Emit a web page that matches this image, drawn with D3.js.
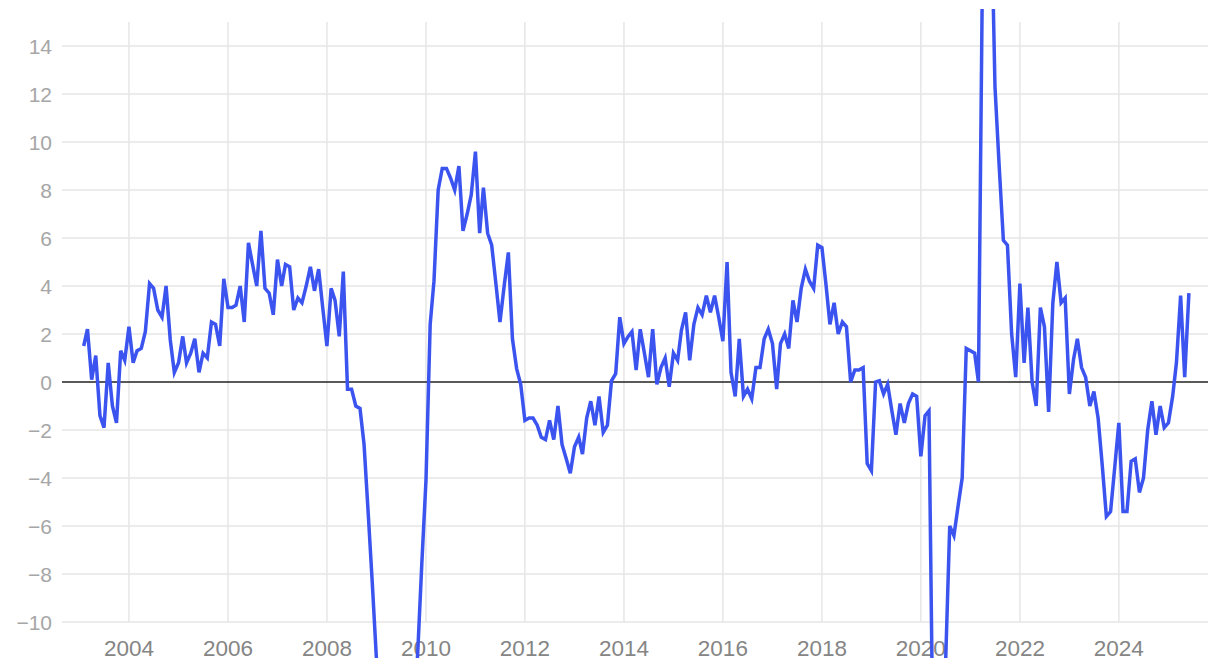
<!DOCTYPE html>
<html>
<head>
<meta charset="utf-8">
<script src="https://cdn.jsdelivr.net/npm/d3@7"></script>
<style>
  html, body { margin: 0; padding: 0; background: #fff; }
  svg { display: block; }
  text { font-family: "Liberation Sans", Arial, Helvetica, sans-serif; }
</style>
</head>
<body>
<svg id="chart" width="1220" height="668"></svg>
<script>
// ---- data (monthly, Feb 2003 – Jun 2025) ----
const startYear = 2003, startMonth = 1; // Feb 2003 (0-based month)
const v2003 = [1.5, 2.2, 0.1, 1.1, -1.4, -1.9, 0.8, -1.0, -1.7, 1.3, 0.9];
const v2004 = [2.3, 0.8, 1.3, 1.4, 2.1, 4.1, 3.9, 3.0, 2.7, 4.0, 1.75, 0.4];
const v2005 = [0.8, 1.9, 0.8, 1.2, 1.8, 0.4, 1.2, 1.0, 2.5, 2.4, 1.5, 4.3];
const v2006 = [3.1, 3.1, 3.2, 4.0, 2.5, 5.8, 4.9, 4.0, 6.3, 3.9, 3.7, 2.8];
const v2007 = [5.1, 4.0, 4.9, 4.8, 3.0, 3.5, 3.3, 4.0, 4.8, 3.8, 4.7, 3.1];
const v2008 = [1.5, 3.9, 3.4, 1.9, 4.6, -0.3, -0.3, -1.0, -1.1, -2.6, -5.5, -8.4];
const v2009 = [-11.6, -14, -16, -17, -18, -18, -17, -16, -15, -14, -11.3, -7.6];
const v2010 = [-4.1, 2.4, 4.2, 8.0, 8.9, 8.9, 8.5, 8.0, 9.0, 6.3, 7.0, 7.8];
const v2011 = [9.6, 6.2, 8.1, 6.2, 5.7, 4.1, 2.5, 4.0, 5.4, 1.8, 0.56, -0.1];
const v2012 = [-1.6, -1.5, -1.5, -1.8, -2.3, -2.4, -1.6, -2.4, -1.0, -2.6, -3.2, -3.8];
const v2013 = [-2.7, -2.3, -3.0, -1.5, -0.8, -1.8, -0.6, -2.1, -1.8, 0.05, 0.35, 2.7];
const v2014 = [1.6, 1.9, 2.1, 0.5, 2.2, 1.2, 0.2, 2.2, -0.1, 0.6, 1.0, -0.2];
const v2015 = [1.2, 0.9, 2.15, 2.9, 0.9, 2.4, 3.1, 2.8, 3.6, 2.9, 3.6, 2.7];
const v2016 = [1.7, 5.0, 0.4, -0.6, 1.8, -0.6, -0.3, -0.7, 0.6, 0.6, 1.8, 2.2];
const v2017 = [1.6, -0.3, 1.6, 2.0, 1.4, 3.4, 2.5, 3.9, 4.7, 4.2, 3.9, 5.7];
const v2018 = [5.6, 4.0, 2.4, 3.3, 2.0, 2.5, 2.3, 0.0, 0.5, 0.5, 0.6, -3.4];
const v2019 = [-3.7, 0.0, 0.05, -0.5, -0.1, -1.2, -2.2, -0.9, -1.7, -0.9, -0.5, -0.6];
const v2020 = [-3.1, -1.4, -1.2, -16, -20, -18, -11.8, -6.0, -6.4, -5.2, -4.0, 1.4];
const v2021 = [1.3, 1.2, 0.0, 18, 25, 20.5, 12.3, 9.0, 5.9, 5.7, 2.0, 0.2];
const v2022 = [4.1, 0.8, 3.1, 0.0, -1.0, 3.1, 2.3, -1.25, 3.3, 5.0, 3.3, 3.5];
const v2023 = [-0.5, 0.95, 1.8, 0.6, 0.2, -1.0, -0.4, -1.5, -3.5, -5.6, -5.4, -3.6];
const v2024 = [-1.7, -5.4, -5.4, -3.3, -3.2, -4.6, -4.0, -2.0, -0.8, -2.2, -1.0, -1.9];
const v2025 = [-1.7, -0.6, 0.8, 3.6, 0.2, 3.7];

const xTickYears = [2004, 2006, 2008, 2010, 2012, 2014, 2016, 2018, 2020, 2022, 2024];
const yTicks = [-10, -8, -6, -4, -2, 0, 2, 4, 6, 8, 10, 12, 14];

const allValues = [].concat(v2003, v2004, v2005, v2006, v2007, v2008, v2009, v2010,
  v2011, v2012, v2013, v2014, v2015, v2016, v2017, v2018, v2019, v2020, v2021,
  v2022, v2023, v2024, v2025);
const data = allValues.map((v, i) => ({ date: new Date(startYear, startMonth + i, 1), value: v }));

// ---- layout ----
const svg = d3.select("#chart");
const plotLeft = 62, plotRight = 1208, plotTop = 22, plotBottom = 622;

const x = d3.scaleTime()
  .domain([new Date(2002, 7, 25), new Date(2025, 9, 20)])
  .range([plotLeft, plotRight]);
const y = d3.scaleLinear().domain([-10, 15]).range([plotBottom, plotTop]);

// horizontal gridlines
svg.append("g").selectAll("line").data(yTicks.filter(d => d !== 0)).join("line")
  .attr("x1", plotLeft).attr("x2", plotRight)
  .attr("y1", d => y(d)).attr("y2", d => y(d))
  .attr("stroke", "#e6e6e6").attr("stroke-width", 1.5);

// vertical gridlines
svg.append("g").selectAll("line").data(xTickYears).join("line")
  .attr("x1", d => x(new Date(d, 0, 1))).attr("x2", d => x(new Date(d, 0, 1)))
  .attr("y1", plotTop).attr("y2", plotBottom)
  .attr("stroke", "#e6e6e6").attr("stroke-width", 1.5);

// y labels
svg.append("g").selectAll("text").data(yTicks).join("text")
  .attr("x", 52).attr("y", d => y(d))
  .attr("dy", "0.36em")
  .attr("text-anchor", "end")
  .attr("font-size", 21)
  .attr("fill", "#a6a6a6")
  .text(d => d < 0 ? "\u2212" + Math.abs(d) : String(d));

// x labels
svg.append("g").selectAll("text").data(xTickYears).join("text")
  .attr("x", d => x(new Date(d, 0, 1))).attr("y", 648)
  .attr("dy", "0.36em")
  .attr("text-anchor", "middle")
  .attr("font-size", 22.5)
  .attr("fill", "#858585")
  .text(d => String(d));

// zero line
svg.append("line")
  .attr("x1", plotLeft).attr("x2", plotRight)
  .attr("y1", y(0)).attr("y2", y(0))
  .attr("stroke", "#222").attr("stroke-width", 1.5);

// clip for line
svg.append("clipPath").attr("id", "clip")
  .append("rect").attr("x", 0).attr("y", 9).attr("width", 1220).attr("height", 649);

const line = d3.line().x(d => x(d.date)).y(d => y(d.value));
svg.append("path")
  .datum(data)
  .attr("clip-path", "url(#clip)")
  .attr("fill", "none")
  .attr("stroke", "#3b54ef")
  .attr("stroke-width", 3.5)
  .attr("stroke-linejoin", "miter")
  .attr("d", line);
</script>
</body>
</html>
